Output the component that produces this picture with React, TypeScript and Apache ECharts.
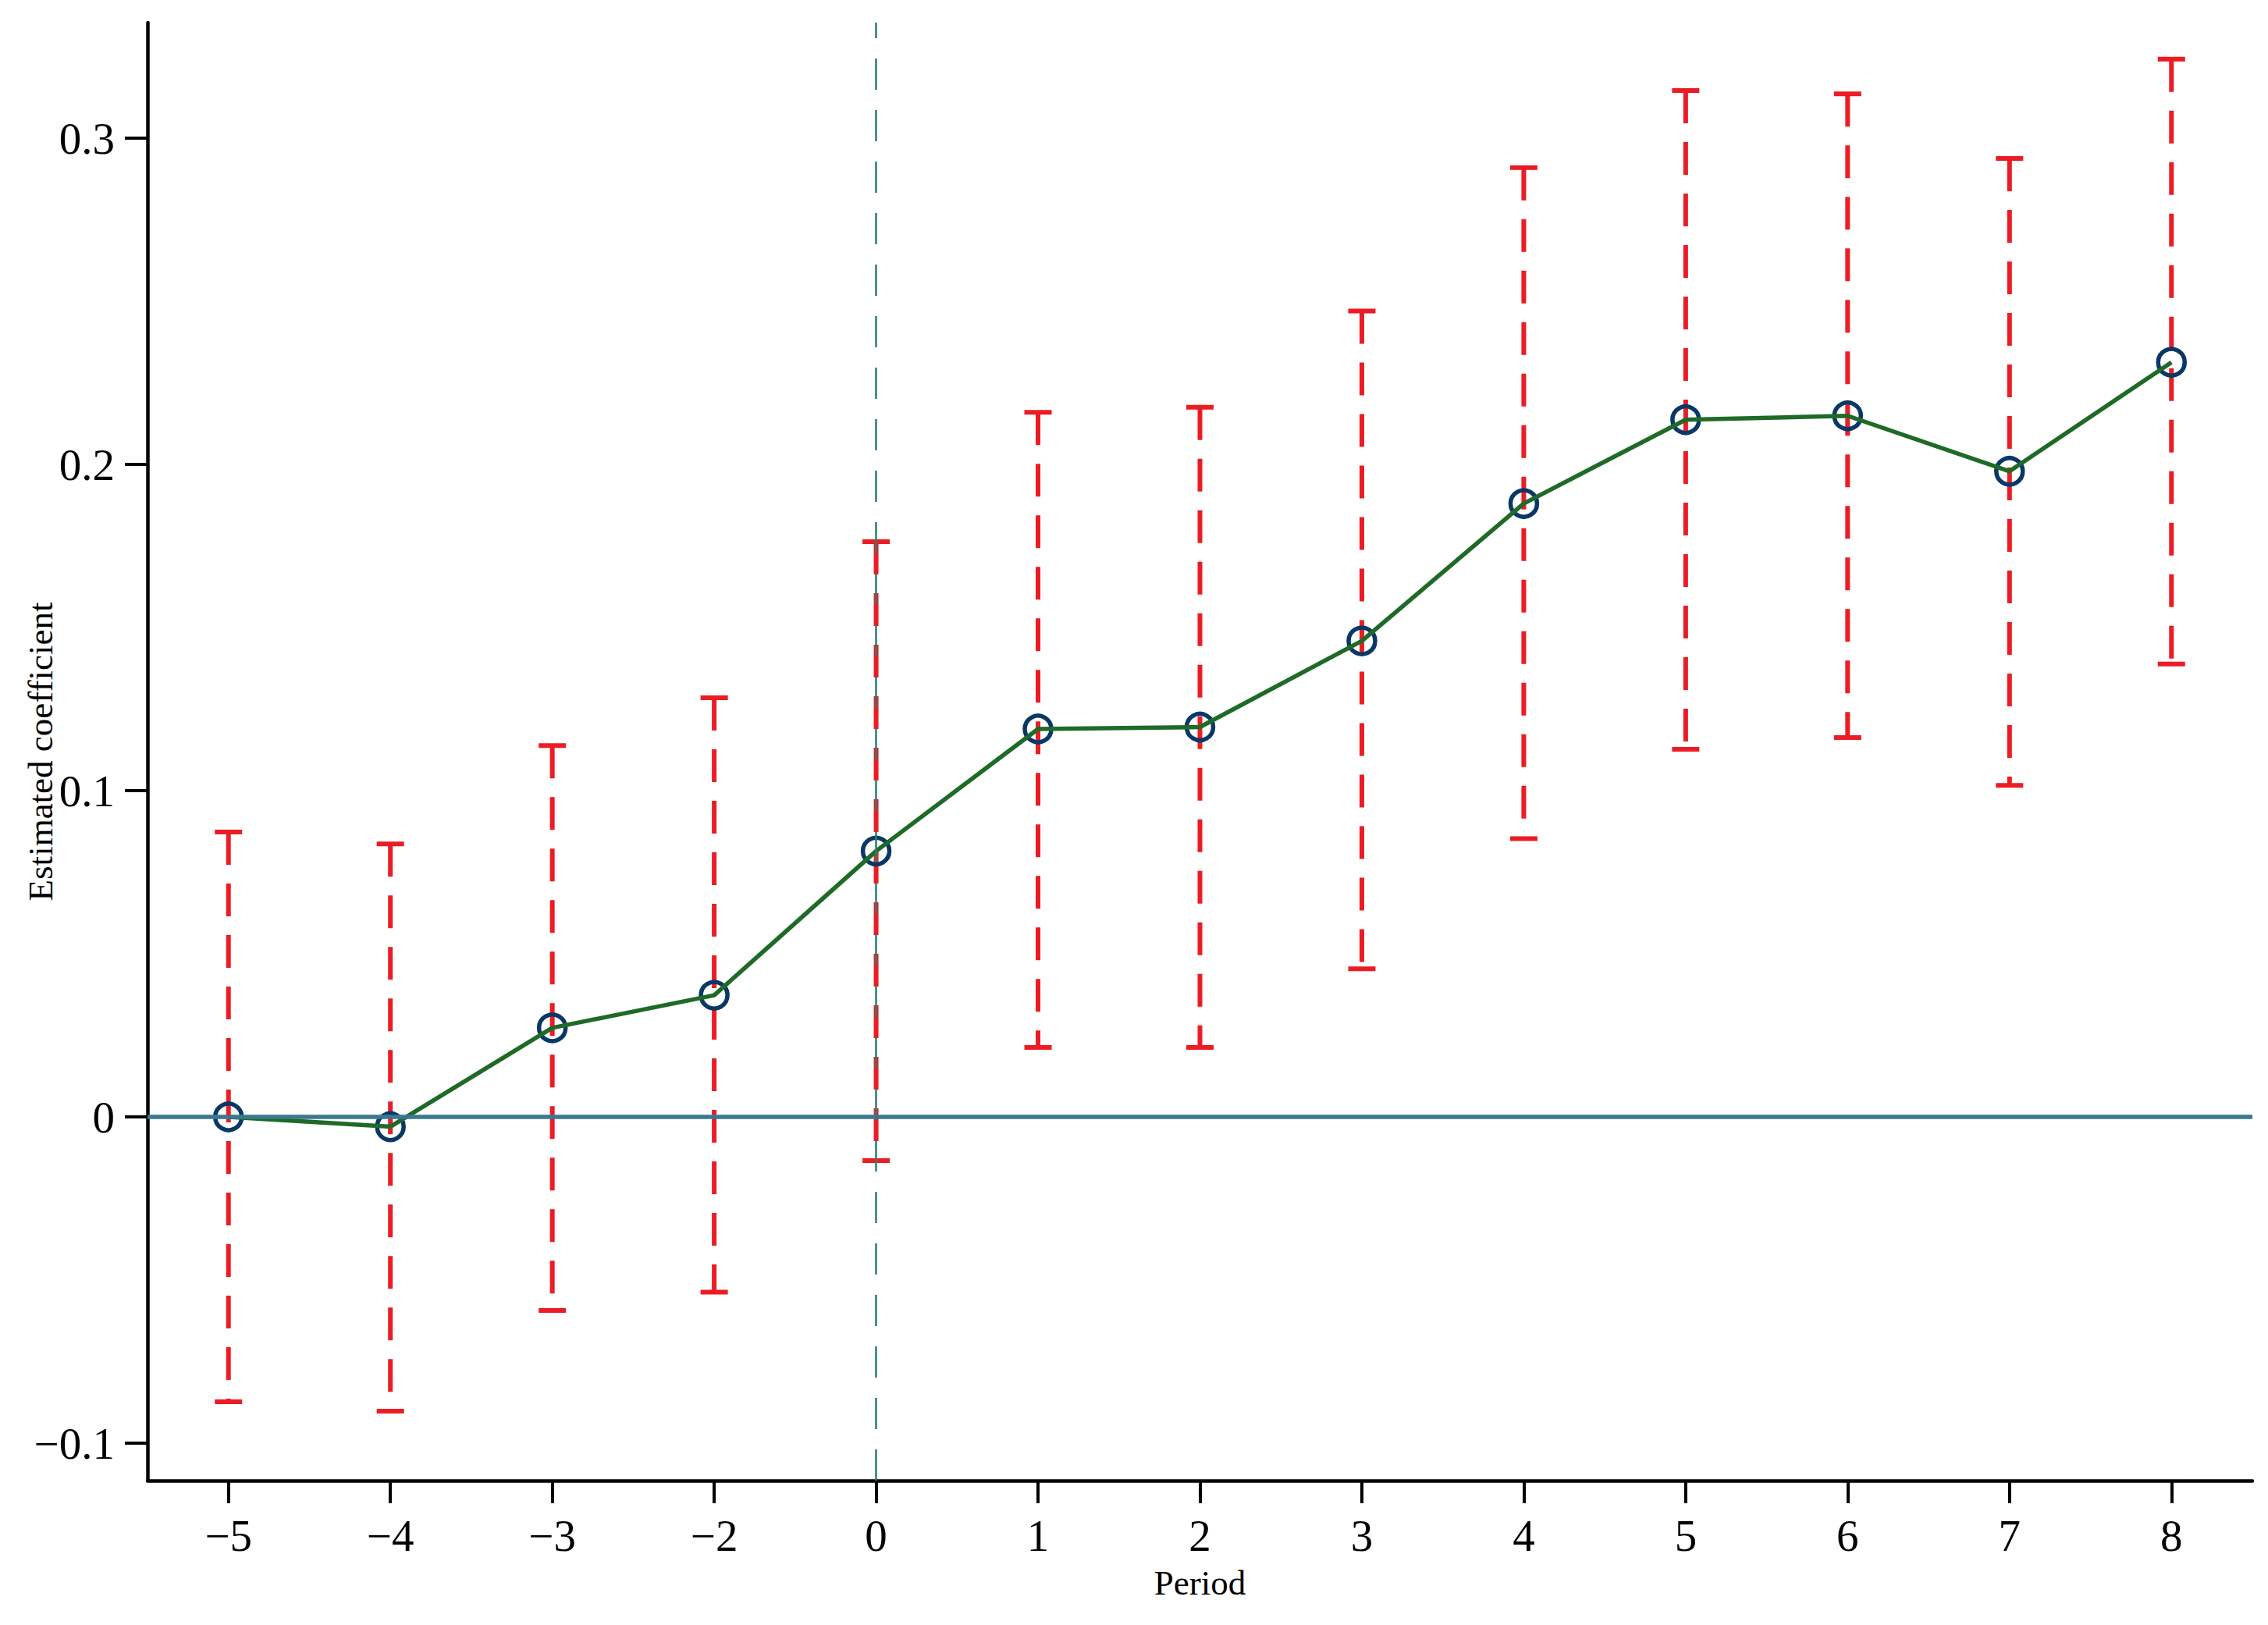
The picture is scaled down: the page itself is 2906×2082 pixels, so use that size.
import React, { useEffect, useRef } from "react";
import * as echarts from "echarts";

const categories = ["−5", "−4", "−3", "−2", "0", "1", "2", "3", "4", "5", "6", "7", "8"];
const coefficients = [0.0, -0.003, 0.0273, 0.0373, 0.0815, 0.1189, 0.1195, 0.1459, 0.188, 0.2137, 0.2149, 0.1979, 0.2313];
const upperCI = [0.0873, 0.0837, 0.1138, 0.1285, 0.1763, 0.216, 0.2175, 0.247, 0.291, 0.3146, 0.3136, 0.2938, 0.3242];
const lowerCI = [-0.0873, -0.0902, -0.0593, -0.0537, -0.0134, 0.0213, 0.0213, 0.0454, 0.0853, 0.1127, 0.1163, 0.1016, 0.1388];
const yTicks = [-0.1, 0, 0.1, 0.2, 0.3];
const treatmentCategory = "0";

const FONT = "'Liberation Serif', 'Times New Roman', serif";
const RED = "#ec1c24";
const NAVY = "#0a3866";
const GREEN = "#1e6a26";
const ZERO_LINE = "#3a7893";
const TEAL = "#2a7c76";

export default function App() {
  const ref = useRef<HTMLDivElement>(null);

  useEffect(() => {
    if (!ref.current) return;
    const chart = echarts.init(ref.current, null, { renderer: "svg" });
    const fmt = (v: number) => {
      if (Math.abs(v) < 1e-9) return "0";
      const s = String(Math.round(Math.abs(v) * 10) / 10);
      return v < 0 ? "−" + s : s;
    };
    chart.setOption({
      animation: false,
      backgroundColor: "#ffffff",
      grid: { left: 189, right: 20, top: 29, bottom: 185, containLabel: false, outerBoundsMode: "none" },
      xAxis: {
        type: "category",
        data: categories,
        boundaryGap: true,
        name: "Period",
        nameLocation: "middle",
        nameGap: 108,
        nameMoveOverlap: false,
        nameTextStyle: { fontFamily: FONT, fontSize: 45, color: "#000" },
        axisLine: { onZero: false, lineStyle: { color: "#000", width: 4.5 } },
        axisTick: { show: true, alignWithLabel: true, length: 29, lineStyle: { color: "#000", width: 4 } },
        axisLabel: { fontFamily: FONT, fontSize: 57, color: "#000", margin: 42 },
        splitLine: { show: false },
      },
      yAxis: {
        type: "value",
        min: -0.11148,
        max: 0.33541,
        name: "Estimated coefficient",
        nameLocation: "middle",
        nameGap: 115,
        nameMoveOverlap: false,
        nameTextStyle: { fontFamily: FONT, fontSize: 45, color: "#000" },
        axisLine: { show: true, onZero: false, lineStyle: { color: "#000", width: 4.5 } },
        axisTick: { show: true, length: 29, lineStyle: { color: "#000", width: 4 }, customValues: yTicks },
        axisLabel: { fontFamily: FONT, fontSize: 57, color: "#000", margin: 42, customValues: yTicks, formatter: fmt },
        splitLine: { show: false },
      },
      series: [
        {
          type: "line",
          data: [],
          z: 1,
          silent: true,
          markLine: {
            silent: true,
            symbol: ["none", "none"],
            label: { show: false },
            data: [
              { yAxis: 0, lineStyle: { color: ZERO_LINE, width: 5.5, type: "solid", opacity: 1 } },
              { xAxis: treatmentCategory, lineStyle: { color: TEAL, width: 2.5, type: [40, 26], opacity: 1 } },
            ],
          },
        },
        {
          type: "custom",
          z: 2,
          silent: true,
          data: categories.map((c, i) => [i, lowerCI[i], upperCI[i]]),
          encode: { x: 0, y: [1, 2] },
          renderItem: (params: any, api: any) => {
            const x = api.value(0);
            const lo = api.coord([x, api.value(1)]);
            const hi = api.coord([x, api.value(2)]);
            const half = 17.5;
            return {
              type: "group",
              children: [
                {
                  type: "line",
                  shape: { x1: hi[0], y1: hi[1], x2: lo[0], y2: lo[1] },
                  style: { stroke: RED, lineWidth: 6, lineDash: [42, 24] },
                },
                {
                  type: "line",
                  shape: { x1: hi[0] - half, y1: hi[1], x2: hi[0] + half, y2: hi[1] },
                  style: { stroke: RED, lineWidth: 6 },
                },
                {
                  type: "line",
                  shape: { x1: lo[0] - half, y1: lo[1], x2: lo[0] + half, y2: lo[1] },
                  style: { stroke: RED, lineWidth: 6 },
                },
              ],
            };
          },
        },
        {
          type: "scatter",
          z: 3,
          data: coefficients,
          symbol: "circle",
          symbolSize: 34,
          itemStyle: { color: "rgba(0,0,0,0)", borderColor: NAVY, borderWidth: 5.5, opacity: 1 },
        },
        {
          type: "line",
          z: 4,
          data: coefficients,
          showSymbol: false,
          symbol: "none",
          lineStyle: { color: GREEN, width: 5.5 },
        },
      ],
    });
    return () => chart.dispose();
  }, []);

  return (
    <div
      ref={ref}
      style={{ position: "absolute", left: 0, top: 0, width: 2906, height: 2082, background: "#fff" }}
    />
  );
}
